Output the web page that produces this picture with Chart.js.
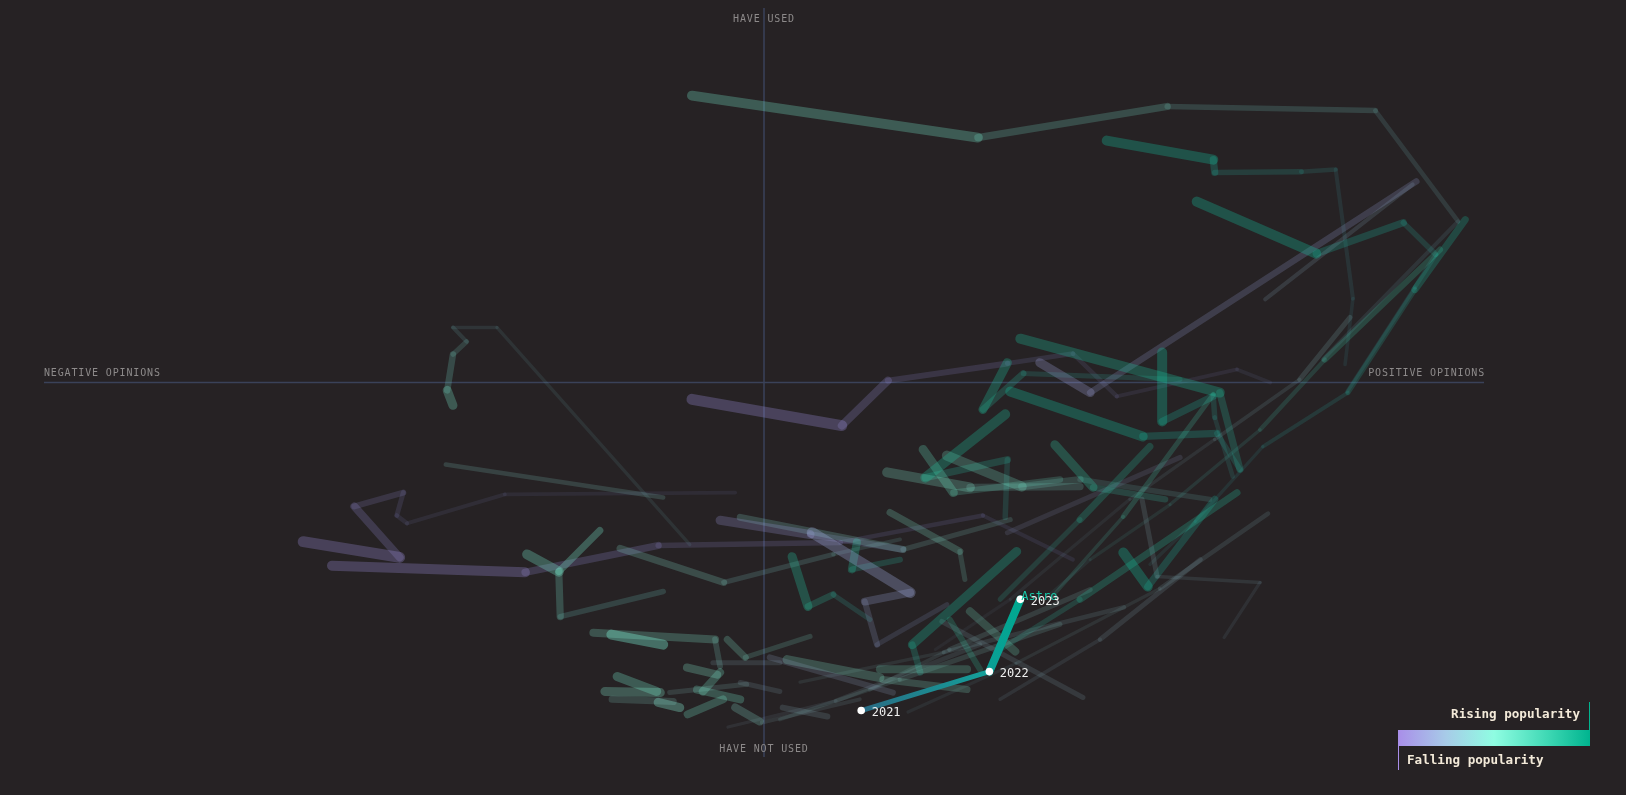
<!DOCTYPE html>
<html><head><meta charset="utf-8">
<script src="https://cdn.jsdelivr.net/npm/chart.js@4.4.1/dist/chart.umd.min.js"></script>
<style>html,body{margin:0;padding:0;background:#262224;overflow:hidden}canvas{display:block}</style>
</head><body>
<canvas id="c" width="1626" height="795"></canvas>
<script>
const axisLabels = ['HAVE USED', 'HAVE NOT USED', 'NEGATIVE OPINIONS', 'POSITIVE OPINIONS'];
const legendLabels = ['Rising popularity', 'Falling popularity'];
const highlightName = 'Astro';
const highlightYears = ['2021', '2022', '2023'];
const highlightX = [13.5, 31.3, 35.6];
const highlightY = [-87.6, -77.2, -57.9];

// each trail: oldest point first, newest last
const trailX = [
 [77.6,96.4,84.9,56.0,29.7,-10.0],
 [80.7,81.8,79.4,74.6,62.6,62.4,47.6],
 [81.0,90.4,93.3,88.8,76.7,60.1],
 [90.6,45.3,38.3],
 [70.3,65.7,49.0,42.9,33.8,17.2,10.8,-10.0],
 [90.1,69.6],
 [-10.3,-37.1,-43.2,-41.3,-43.2,-44.0,-43.2],
 [-14.0,-44.2],
 [-4.0,-36.0,-49.6,-51.0,-50.1,-56.9,-50.6,-64.0],
 [42.9,30.4,10.6,-14.7,-33.2,-60.0],
 [-14.0,-28.3,-28.5,-32.9],
 [-22.8,-28.5],
 [18.9,9.6,-5.6,-20.0],
 [25.4,15.7,14.0,20.3,6.7],
 [19.3,6.4,-6.1],
 [34.2,19.3,-3.3],
 [14.7,9.6,6.1,3.9],
 [18.9,12.2,12.9],
 [21.7,20.6,35.1],
 [27.9,27.2,17.5],
 [34.9,28.6],
 [30.0,25.8],
 [44.3,24.7],
 [28.2,16.1],
 [28.2,16.5],
 [65.1,62.6,62.4,55.3,55.3],
 [66.1,63.3,35.6],
 [57.8,36.0,30.4,33.8],
 [66.1,62.9,52.6,34.2],
 [33.5,33.8,22.4,33.5],
 [41.1,26.3,22.1],
 [43.9,28.6,17.1],
 [61.9,43.9,35.8,25.4],
 [55.7,45.7,40.4],
 [32.8,43.9,53.6],
 [39.7,49.9,62.4],
 [57.8,33.8],
 [53.6,59.9,69.3,81.1,90.4,97.4],
 [39.7,45.3,56.4,68.9,77.9,93.9],
 [23.8,34.2,50.8,62.6,74.4,81.4],
 [63.9,68.9,54.6,52.5],
 [62.6,53.3,49.9],
 [32.8,43.9,65.7],
 [-6.1,-6.8,-23.7],
 [-14.0,-21.2],
 [6.4,-2.6,-5.1],
 [-6.5,-10.7],
 [-14.9,-20.4],
 [-12.6,-21.1],
 [-3.3,-9.3],
 [-5.7,-10.6],
 [-11.7,-14.7],
 [17.9,0.8],
 [16.1,3.2],
 [8.8,2.6],
 [32.8,46.7,60.6],
 [14.7,25.8,45.3],
 [2.2,18.9,41.1],
 [-14.4,-22.1],
 [-6.1,-8.5],
 [-4.0,-0.6],
 [-7.1,2.2],
 [-3.3,2.2],
 [-13.1,-2.4],
 [-0.3,13.3],
 [20.0,35.0,55.0,70.0],
 [5.0,25.0,50.0],
 [-5.0,10.0,30.0]
];
const trailY = [
 [6.1,43.0,72.6,73.7,65.4,76.6],
 [4.8,22.4,56.9,56.3,56.1,59.5,64.6],
 [-2.4,25.4,34.2,42.7,34.4,48.3],
 [53.7,-2.7,5.3],
 [0.0,3.5,-3.7,7.7,5.1,0.5,-11.5,-4.5],
 [52.9,22.2],
 [-43.3,14.7,14.7,10.9,7.5,-2.1,-6.1],
 [-30.7,-21.9],
 [-29.4,-29.9,-37.6,-35.5,-29.4,-33.1,-46.7,-42.5],
 [-47.3,-35.5,-42.7,-43.5,-50.7,-48.9],
 [-55.8,-62.5,-50.5,-45.9],
 [-39.5,-50.5],
 [-41.9,-45.9,-53.4,-44.3],
 [-59.3,-70.0,-58.5,-56.1,-40.1],
 [-44.6,-40.6,-36.8],
 [-36.6,-44.6,-36.0],
 [-63.3,-56.6,-59.8,-46.5],
 [-47.3,-49.9,-42.7],
 [-77.4,-70.0,-45.1],
 [-52.6,-45.1,-34.7],
 [-71.8,-61.1],
 [-76.6,-63.3],
 [-84.1,-63.8],
 [-76.6,-76.6],
 [-82.0,-79.3],
 [-25.1,-9.3,-3.7,-10.4,8.0],
 [-23.2,-2.7,11.7],
 [0.8,2.4,-7.2,5.3],
 [-23.2,-13.6,-14.4,-2.4],
 [-36.0,-20.6,-25.4,-8.5],
 [-25.9,-29.4,-17.9],
 [-27.8,-28.0,-24.0],
 [-31.2,-25.9,-27.8,-19.5],
 [-31.2,-28.0,-16.6],
 [-57.9,-36.6,-17.1],
 [-57.9,-35.8,-3.2],
 [-20.0,-40.1],
 [-48.6,-37.1,-17.1,-2.7,24.8,43.5],
 [-56.6,-47.3,-32.6,-12.6,6.1,35.5],
 [-71.3,-57.9,-31.2,-15.2,0.8,17.4],
 [-68.1,-53.4,-51.8,-31.2],
 [-31.2,-54.5,-45.4],
 [-71.3,-57.9,-29.4],
 [-75.8,-68.6,-66.8],
 [-70.0,-67.3],
 [-67.8,-73.4,-68.6],
 [-78.0,-76.1],
 [-82.5,-78.5],
 [-85.2,-84.6],
 [-84.6,-82.0],
 [-84.6,-88.6],
 [-86.8,-85.4],
 [-82.8,-73.4],
 [-78.8,-74.0],
 [-89.2,-86.8],
 [-84.6,-68.6,-47.3],
 [-82.0,-71.3,-55.3],
 [-90.0,-79.3,-64.6],
 [-82.8,-82.5],
 [-77.4,-82.5],
 [-86.8,-90.5],
 [-74.8,-74.8],
 [-80.1,-82.5],
 [-82.8,-80.6],
 [-90.8,-84.6],
 [-88.0,-75.0,-55.0,-35.0],
 [-80.0,-72.0,-60.0],
 [-92.0,-85.0,-70.0]
];
// 0 = falling (purple) ... 1 = rising (teal)
const trailTrend = [0.55,0.92,0.92,0.12,0.04,0.25,0.55,0.4,0.04,0.04,
 0.55,0.55,0.45,0.15,0.08,0.45,0.85,0.85,0.9,0.5,
 0.55,0.8,0.3,0.55,0.5,0.92,0.88,0.88,0.92,0.88,
 0.6,0.5,0.55,0.8,0.85,0.7,0.15,0.9,0.75,0.35,
 0.3,0.92,0.85,0.5,0.55,0.5,0.5,0.55,0.4,0.55,
 0.55,0.5,0.2,0.5,0.3,0.3,0.35,0.4,
 0.5,0.55,0.45,0.3,0.3,0.35,0.3,0.35,0.35,0.3];
const trailWidth = [10,10,10,9,11,4,9,4.5,11,10,
 10,7,7,11,9,7,9,8,9,7,
 8,6,5,8,7,10,10,9,10,10,
 9,10,10,9,7,5,5,7,6,5,
 5,10,7,8,10,7,8,9,7,8,
 8,9,6,9,6,5,5,5,
 9,8,8,5,5,5,4,4.5,4.5,4.5];
const trailAlpha = [0.27,0.3,0.3,0.26,0.28,0.14,0.26,0.16,0.27,0.27,
 0.28,0.28,0.2,0.3,0.23,0.19,0.28,0.26,0.28,0.2,
 0.2,0.2,0.13,0.2,0.19,0.3,0.28,0.28,0.3,0.28,
 0.24,0.22,0.22,0.26,0.22,0.19,0.13,0.24,0.2,0.15,
 0.14,0.3,0.24,0.22,0.36,0.2,0.23,0.27,0.17,0.24,
 0.24,0.3,0.17,0.21,0.15,0.13,0.14,0.14,
 0.25,0.24,0.21,0.13,0.13,0.14,0.11,0.12,0.12,0.11];

const stops = [[0,[167,139,234]],[0.25,[165,205,232]],[0.5,[142,255,224]],[0.75,[60,220,180]],[1,[0,184,148]]];
function grad(t){
  for (let i=1;i<stops.length;i++){
    if (t<=stops[i][0]){
      const [t0,c0]=stops[i-1],[t1,c1]=stops[i]; const f=(t-t0)/(t1-t0);
      return c0.map((v,k)=>v+(c1[k]-v)*f);
    }
  }
  return stops[stops.length-1][1];
}
const widthF=[1,0.72,0.55,0.45,0.4,0.36,0.34,0.32];
const alphaF=[1,0.82,0.68,0.58,0.5,0.45,0.4,0.36];
const oldTint=[95,115,160];

const datasets=[];
trailX.forEach((xs,i)=>{
  const ys=trailY[i]; const n=xs.length;
  const base=grad(trailTrend[i]);
  for (let s=0;s<n-1;s++){
    const r=Math.min(n-2-s,7);
    const m=Math.min(0.55,r*0.14);
    const col=base.map((v,k)=>Math.round(v*(1-m)+oldTint[k]*m));
    datasets.push({
      data:[{x:xs[s],y:ys[s]},{x:xs[s+1],y:ys[s+1]}],
      showLine:true,
      borderColor:`rgba(${col.join(',')},${(trailAlpha[i]*alphaF[r]).toFixed(3)})`,
      borderWidth:Math.max(3.2,trailWidth[i]*widthF[r]),
      borderCapStyle:'round',
      pointRadius:0,
      order:10+r
    });
  }
});
datasets.push({
  data:highlightX.map((x,i)=>({x,y:highlightY[i]})),
  showLine:true,
  order:0,
  borderColor:'#00a894',
  borderCapStyle:'round',
  pointRadius:3.8,
  pointBackgroundColor:'#ffffff',
  pointBorderWidth:0,
  segment:{
    borderWidth:c=>c.p0DataIndex===0?5:8,
    borderColor:c=>{
      const g=c.chart.ctx.createLinearGradient(c.p0.x,c.p0.y,c.p1.x,c.p1.y);
      if (c.p0DataIndex===0){g.addColorStop(0,'#2a6b84');g.addColorStop(1,'#13a19a');}
      else {g.addColorStop(0,'#0b9f96');g.addColorStop(1,'#00a88f');}
      return g;
    }
  }
});

const MONO="'DejaVu Sans Mono', 'Liberation Mono', monospace";
const deco={
  id:'deco',
  beforeDraw(chart){
    const {ctx,width,height}=chart;
    ctx.save(); ctx.fillStyle='#262224'; ctx.fillRect(0,0,width,height); ctx.restore();
  },
  beforeDatasetsDraw(chart){
    const {ctx,chartArea:a}=chart;
    const cx=chart.scales.x.getPixelForValue(0), cy=chart.scales.y.getPixelForValue(0);
    ctx.save();
    ctx.strokeStyle='#3a4259'; ctx.lineWidth=1.5;
    ctx.beginPath(); ctx.moveTo(a.left,cy); ctx.lineTo(a.right,cy);
    ctx.moveTo(cx,a.top); ctx.lineTo(cx,a.bottom); ctx.stroke();
    ctx.fillStyle='#8d8a8a'; ctx.font='10px '+MONO;
    try{ctx.letterSpacing='0.85px';}catch(e){}
    ctx.textBaseline='alphabetic';
    ctx.textAlign='center';
    ctx.fillText(axisLabels[0],cx,a.top+13.5);
    ctx.fillText(axisLabels[1],cx,a.bottom-5.5);
    ctx.textAlign='left';
    ctx.fillText(axisLabels[2],a.left,cy-7);
    ctx.textAlign='right';
    ctx.fillText(axisLabels[3],a.right+1,cy-7);
    ctx.restore();
  },
  afterDatasetsDraw(chart){
    const {ctx}=chart;
    const meta=chart.getDatasetMeta(chart.data.datasets.length-1);
    const pts=meta.data;
    ctx.save();
    ctx.font='12px '+MONO; ctx.textBaseline='alphabetic'; ctx.textAlign='left';
    const last=pts[pts.length-1];
    ctx.fillStyle='#17c6a6';
    ctx.fillText(highlightName,last.x+1,last.y+0.5);
    ctx.fillStyle='#f0f0f0';
    pts.forEach((p,i)=>ctx.fillText(highlightYears[i],p.x+10.5,p.y+5.2));
    ctx.restore();
  },
  afterDraw(chart){
    const {ctx}=chart;
    ctx.save();
    const x0=1398, x1=1590, y0=730, y1=746;
    const g=ctx.createLinearGradient(x0,0,x1,0);
    g.addColorStop(0,'#a98ee9'); g.addColorStop(0.25,'#a7cbe8'); g.addColorStop(0.5,'#8ffde2');
    g.addColorStop(0.78,'#3ed8b4'); g.addColorStop(1,'#00b48f');
    ctx.fillStyle=g; ctx.fillRect(x0,y0,x1-x0,y1-y0);
    ctx.lineWidth=1;
    ctx.strokeStyle='#00b48f'; ctx.beginPath(); ctx.moveTo(x1-0.5,702); ctx.lineTo(x1-0.5,y0); ctx.stroke();
    ctx.strokeStyle='#a98ee9'; ctx.beginPath(); ctx.moveTo(x0+0.5,y1); ctx.lineTo(x0+0.5,770); ctx.stroke();
    ctx.fillStyle='#f3ead9'; ctx.font='bold 12.6px '+MONO; ctx.textBaseline='alphabetic';
    ctx.textAlign='right'; ctx.fillText(legendLabels[0],1580,718);
    ctx.textAlign='left'; ctx.fillText(legendLabels[1],1407,764);
    ctx.restore();
  }
};

new Chart(document.getElementById('c'),{
  type:'scatter',
  data:{datasets},
  options:{
    responsive:false,
    devicePixelRatio:1,
    animation:false,
    events:[],
    layout:{padding:{left:44,right:142,top:8,bottom:38}},
    plugins:{legend:{display:false},tooltip:{enabled:false}},
    scales:{
      x:{type:'linear',min:-100,max:100,display:false},
      y:{type:'linear',min:-100,max:100,display:false}
    },
    elements:{line:{tension:0}}
  },
  plugins:[deco]
});
</script>
</body></html>
